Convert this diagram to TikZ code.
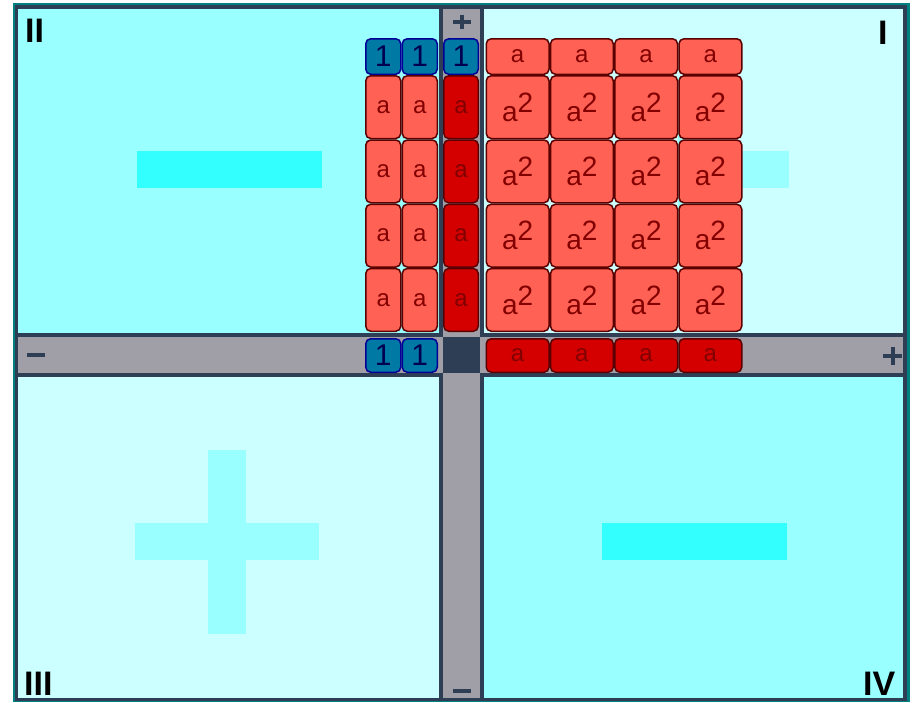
\documentclass[tikz,border=0pt]{standalone}
\usepackage{fontspec}
\setmainfont{Liberation Sans}
\definecolor{frameteal}{RGB}{0,128,128}
\definecolor{slate}{RGB}{46,62,84}
\definecolor{axisgray}{RGB}{160,158,166}
\definecolor{cyanA}{RGB}{153,255,255}
\definecolor{cyanB}{RGB}{204,255,255}
\definecolor{cyanC}{RGB}{51,255,255}
\definecolor{redL}{RGB}{255,98,84}
\definecolor{redD}{RGB}{212,0,0}
\definecolor{redEdge}{RGB}{90,0,0}
\definecolor{redText}{RGB}{130,0,0}
\definecolor{blueT}{RGB}{0,122,164}
\definecolor{blueEdge}{RGB}{0,0,150}
\definecolor{blueText}{RGB}{0,0,80}
\newcommand\asq{a\raisebox{9pt}{2}}
\begin{document}
\begin{tikzpicture}[x=1pt,y=-1pt,
  tile/.style={draw, line width=1.5pt, rounded corners=5pt, inner sep=0pt},
  redtile/.style={tile, fill=redL, draw=redEdge, text=redText},
  darktile/.style={tile, fill=redD, draw=redEdge, text=redText},
  bluetile/.style={tile, fill=blueT, draw=blueEdge, text=blueText, font=\fontsize{30}{30}\selectfont},
  sq/.style={minimum width=62.75pt, minimum height=62.75pt},
  narrowtall/.style={minimum width=35pt, minimum height=62.75pt},
  smallfont/.style={font=\fontsize{24}{24}\selectfont},
  bigfont/.style={font=\fontsize{28}{28}\selectfont},
  roman/.style={font=\fontsize{34}{34}\selectfont\bfseries, text=black, inner sep=0pt, anchor=base west},
  axsign/.style={draw=slate, line width=4pt}
]
\useasboundingbox (0,0) rectangle (915,702);
% frame
\fill[frameteal] (13,3) rectangle (910,702);
\fill[slate] (15,5) rectangle (907,701);
% quadrants
\fill[cyanA] (18,9) rectangle (439,333);
\fill[cyanB] (484,9) rectangle (903,333);
\fill[cyanB] (18,377) rectangle (439,698);
\fill[cyanA] (484,377) rectangle (903,698);
% axes
\fill[axisgray] (443,9) rectangle (480,698);
\fill[axisgray] (18,337) rectangle (903,373);
\fill[slate] (443,337) rectangle (480,373);
% big signs
\fill[cyanC] (137,151) rectangle (322,188);
\fill[cyanC] (602,523) rectangle (787,560);
\fill[cyanA] (135,523) rectangle (319,560);
\fill[cyanA] (208,450) rectangle (246,634);
\fill[cyanA] (605,151) rectangle (789,188);
\fill[cyanA] (678,77) rectangle (716,261);
% axis signs
\draw[axsign] (453,22) -- (471,22);
\draw[axsign] (462,15) -- (462,29);
\draw[axsign] (883,356) -- (902,356);
\draw[axsign] (892.5,347) -- (892.5,365);
\draw[axsign] (27,355) -- (45,355);
\draw[axsign] (453,691) -- (471,691);
% roman numerals
\node[roman] (qII) at (25,42) {II};
\node[roman] (qI) at (878,44) {I};
\node[roman] (qIII) at (24,695) {III};
\node[roman] (qIV) at (863,695) {IV};
% top row of unit tiles
\node[bluetile, minimum width=35pt, minimum height=35.5pt] (b1) at (383.25,56.5) {1};
\node[bluetile, minimum width=35pt, minimum height=35.5pt] (b2) at (419.75,56.5) {1};
\node[bluetile, minimum width=34.5pt, minimum height=35.5pt] (b3) at (461,56.5) {1};
% bottom row unit tiles
\node[bluetile, minimum width=35pt, minimum height=33.5pt] (bb1) at (383.25,355.5) {1};
\node[bluetile, minimum width=35pt, minimum height=33.5pt] (bb2) at (419.75,355.5) {1};
% top and bottom a tiles
\foreach \c/\x in {1/517.625,2/581.875,3/646.125,4/710.375}{
  \node[redtile, smallfont, minimum width=62.75pt, minimum height=35.5pt] (at\c) at (\x,56.5) {a};
  \node[darktile, smallfont, minimum width=62.75pt, minimum height=33.5pt] (ab\c) at (\x,355.5) {a};
}
% rows
\foreach \r/\y in {1/107.125,2/171.375,3/235.625,4/299.875}{
  \node[redtile, smallfont, narrowtall] (na\r) at (383.25,\y) {a};
  \node[redtile, smallfont, narrowtall] (nb\r) at (419.75,\y) {a};
  \node[darktile, smallfont, minimum width=34.5pt, minimum height=62.75pt] (d\r) at (461,\y) {a};
  \foreach \c/\x in {1/517.625,2/581.875,3/646.125,4/710.375}{
    \node[redtile, bigfont, sq] (s\r\c) at (\x,\y) {\asq};
  }
}
\end{tikzpicture}
\end{document}
